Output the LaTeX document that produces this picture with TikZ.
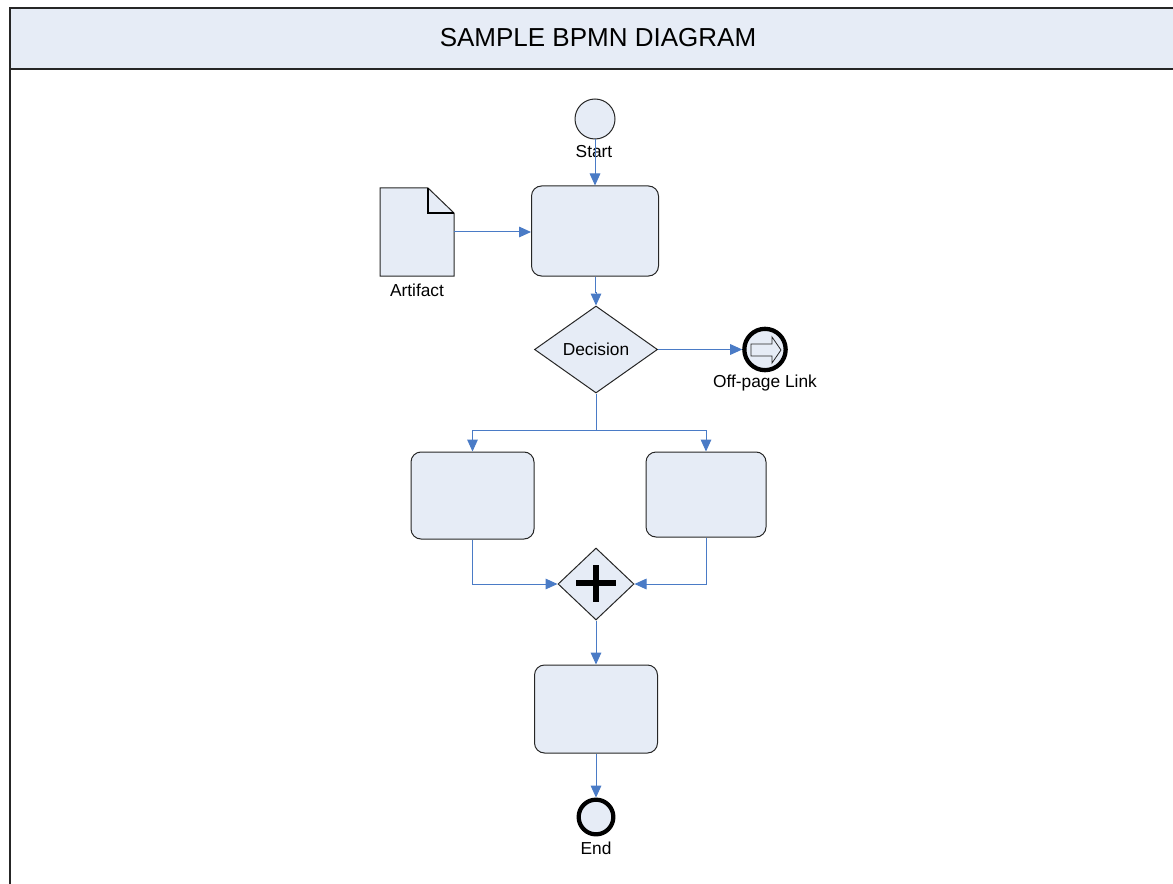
\documentclass[tikz,border=0pt]{standalone}
\usepackage{fontspec}
\setmainfont{Liberation Sans}
\usetikzlibrary{arrows.meta,shapes.geometric}
\definecolor{fillc}{HTML}{E6ECF6}
\definecolor{linkc}{HTML}{4A7BC6}
\tikzset{
  taskbox/.style={draw=black!85, line width=0.75pt, fill=fillc, rounded corners=7.5pt, inner sep=0pt},
  flow/.style={draw=linkc, line width=0.75pt, -{Triangle[length=9pt,width=8pt]}},
  lbl/.style={font=\fontsize{13}{15}\selectfont, inner sep=0pt},
}
\begin{document}
\begin{tikzpicture}[x=0.75pt,y=-0.75pt]
\useasboundingbox (0,0) rectangle (1173,884);
% frame
\fill[fillc] (10,8) rectangle (1175,69);
\draw[line width=1.2pt, black!85] (1175,8) -- (10,8) -- (10,884);
\draw[line width=1.2pt, black!85] (10,69) -- (1175,69);
\node[font=\fontsize{19.5}{22}\selectfont] (title) at (598,38) {SAMPLE BPMN DIAGRAM};

% start
\node[circle, draw=black!85, line width=0.75pt, fill=fillc, minimum size=30pt, inner sep=0pt] (start) at (595,119) {};
\node[lbl] (startl) at (594,152) {Start};

% task 1
\node[taskbox, minimum width=95.25pt, minimum height=67.5pt] (t1) at (595,231) {};

% artifact
\draw[black!85, line width=0.75pt, fill=fillc] (380,188) -- (428,188) -- (454,213) -- (454,276) -- (380,276) -- cycle;
\draw[black, line width=1.3pt] (428,188) -- (428,213) -- (454,213);
\coordinate (artout) at (454,232);
\node[lbl] (artl) at (417,290) {Artifact};

% decision
\node[draw=black!85, line width=0.75pt, fill=fillc, diamond, aspect=1.41, minimum width=92.25pt, minimum height=65.25pt, inner sep=0pt] (dec) at (596,349.5) {};
\node[lbl] (decl) at (596,349.5) {Decision};

% off-page link
\node[circle, draw=black, line width=3.2pt, fill=fillc, minimum size=31pt, inner sep=0pt] (off) at (765,349.5) {};
\draw[black!85, line width=0.6pt, fill=fillc] (751,344) -- (772,344) -- (772,337) -- (781,350) -- (772,363) -- (772,356) -- (751,356) -- cycle;
\node[lbl] (offl) at (765,383) {Off-page Link};

% tasks 2, 3
\node[taskbox, minimum width=92.25pt, minimum height=65.25pt] (t2) at (472.5,495.5) {};
\node[taskbox, minimum width=90pt, minimum height=63.75pt] (t3) at (706,494.5) {};

% gateway
\node[draw=black!85, line width=0.75pt, fill=fillc, diamond, aspect=1.05, minimum width=57pt, minimum height=54pt, inner sep=0pt] (gw) at (596,584) {};
\draw[black, line width=4.5pt] (576,583) -- (616,583);
\draw[black, line width=4.5pt] (596,565) -- (596,602);

% task 4
\node[taskbox, minimum width=92.25pt, minimum height=66pt] (t4) at (596,709) {};

% end
\node[circle, draw=black, line width=3.2pt, fill=fillc, minimum size=26pt, inner sep=0pt] (endn) at (596,817) {};
\node[lbl] (endl) at (596,848) {End};

% connectors
\draw[flow] (start.south) -- (t1.north);
\draw[flow] (artout) -- (artout -| t1.west);
\draw[flow] (t1.south) -- ++(0,16) -| (dec.north);
\draw[flow] (dec.east) -- (off.west);
\coordinate (split) at (596,430);
\draw[linkc, line width=0.75pt] (dec.south) -- (split);
\draw[flow] (split) -| (t2.north);
\draw[flow] (split) -| (t3.north);
\draw[flow] (t2.south) |- (gw.west);
\draw[flow] (t3.south) |- (gw.east);
\draw[flow] (gw.south) -- (t4.north);
\draw[flow] (t4.south) -- (endn.north);
\end{tikzpicture}
\end{document}
